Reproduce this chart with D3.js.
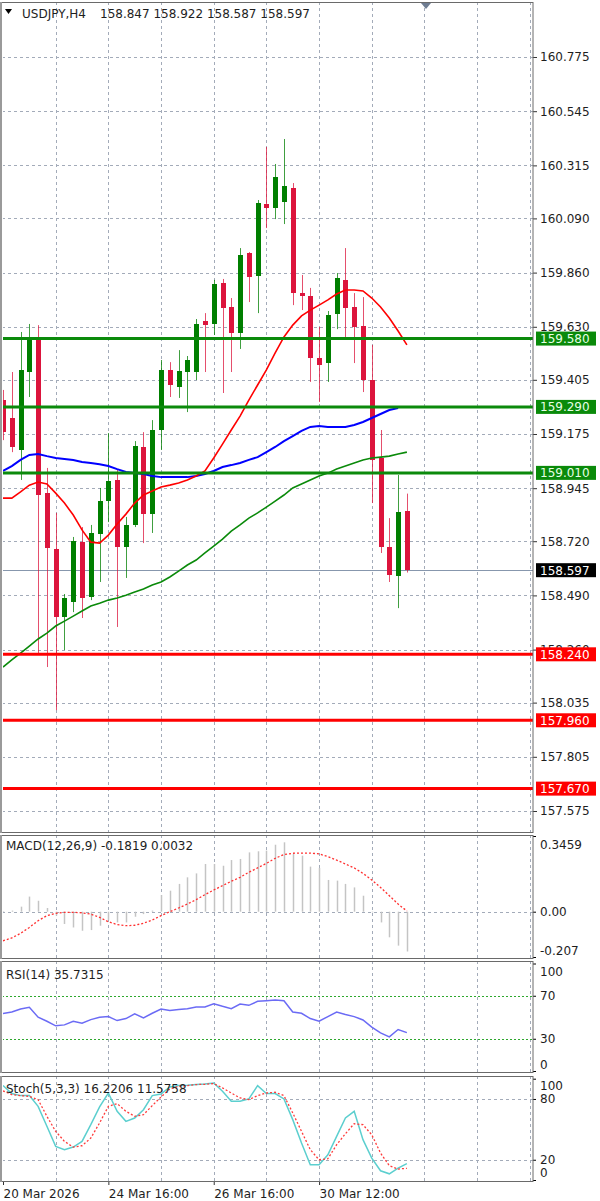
<!DOCTYPE html>
<html><head><meta charset="utf-8">
<script src="https://cdn.jsdelivr.net/npm/d3@7"></script>
<style>
body{margin:0;background:#fff}
svg{display:block}
text{font-family:"DejaVu Sans",sans-serif;font-size:12px;fill:#1e1e1e}
</style></head>
<body><svg id="c" width="600" height="1201"></svg>
<script>
// ---------- DATA ----------
const symbolTitle = "USDJPY,H4";
const headerOHLC = ["158.847","158.922","158.587","158.597"];
const openP  = [159.319,159.243,159.107,159.438,159.582,158.924,158.687,158.398,158.462,158.716,158.483,158.750,158.890,158.980,158.695,158.789,159.120,158.835,159.192,159.447,159.374,159.438,159.438,159.654,159.642,159.816,159.714,159.604,159.943,159.845,160.151,160.134,160.160,160.219,159.773,159.761,159.497,159.476,159.684,159.829,159.714,159.633,159.404,159.073,158.695,158.572,158.847];
const highP  = [159.362,159.438,159.608,159.642,159.637,159.031,158.840,158.496,158.738,158.780,158.789,158.946,159.179,159.022,158.823,159.145,159.183,159.234,159.489,159.480,159.531,159.506,159.663,159.688,159.829,159.833,159.752,159.964,159.947,160.168,160.393,160.321,160.427,160.240,159.850,159.795,159.629,159.697,159.858,159.964,159.773,159.756,159.553,159.192,158.818,159.001,158.922];
const lowP   = [159.149,159.098,158.980,159.332,158.245,158.186,158.003,158.258,158.419,158.394,158.470,158.547,158.801,158.356,158.564,158.780,158.712,158.755,159.107,159.332,159.328,159.268,159.404,159.438,159.595,159.349,159.438,159.536,159.735,159.688,160.049,160.087,160.066,159.722,159.701,159.396,159.311,159.396,159.620,159.574,159.476,159.353,158.882,158.670,158.547,158.436,158.587];
const closeP = [159.183,159.120,159.447,159.582,158.916,158.691,158.398,158.479,158.721,158.479,158.755,158.890,158.975,158.695,158.789,159.124,158.835,159.192,159.447,159.383,159.442,159.489,159.642,159.637,159.812,159.710,159.604,159.935,159.841,160.155,160.134,160.266,160.227,159.773,159.761,159.497,159.468,159.680,159.837,159.710,159.629,159.404,159.065,158.695,158.576,158.844,158.597];

const maFast = [158.903,158.903,158.929,158.958,158.971,158.963,158.924,158.882,158.831,158.768,158.716,158.712,158.746,158.793,158.835,158.882,158.916,158.933,158.950,158.958,158.967,158.980,158.997,159.018,159.073,159.132,159.192,159.251,159.319,159.383,159.447,159.519,159.587,159.637,159.676,159.701,159.722,159.744,159.769,159.786,159.786,159.782,159.752,159.714,159.667,159.612,159.553];
const maMid  = [159.018,159.039,159.065,159.086,159.090,159.081,159.073,159.069,159.065,159.056,159.052,159.047,159.039,159.026,159.014,159.009,159.005,158.997,158.992,158.992,158.992,158.992,158.997,159.005,159.018,159.035,159.043,159.052,159.065,159.077,159.098,159.120,159.145,159.166,159.188,159.205,159.209,159.205,159.205,159.205,159.213,159.226,159.243,159.260,159.277,159.285];
const maSlow = [158.186,158.216,158.245,158.275,158.305,158.330,158.360,158.381,158.402,158.424,158.445,158.457,158.470,158.479,158.491,158.504,158.517,158.534,158.547,158.568,158.593,158.619,158.640,158.670,158.699,158.729,158.763,158.789,158.818,158.840,158.865,158.890,158.916,158.946,158.963,158.980,158.997,159.009,159.026,159.039,159.052,159.065,159.073,159.077,159.081,159.090,159.098];

const priceTicks = [160.775,160.545,160.315,160.090,159.860,159.630,159.405,159.175,158.945,158.720,158.490,158.260,158.035,157.805,157.575];
const greenLevels = [159.580,159.290,159.010];
const redLevels   = [158.240,157.960,157.670];
const lastPrice = 158.597;

const macdHist   = [0.002,0.005,0.023,0.069,0.050,0.017,-0.018,-0.056,-0.072,-0.087,-0.084,-0.064,-0.038,-0.049,-0.049,-0.023,-0.011,0.005,0.076,0.096,0.127,0.157,0.175,0.218,0.218,0.210,0.236,0.241,0.271,0.276,0.279,0.306,0.317,0.264,0.256,0.206,0.200,0.145,0.142,0.127,0.111,0.073,-0.003,-0.049,-0.117,-0.155,-0.1819];
const macdSignal = [-0.133,-0.120,-0.099,-0.072,-0.041,-0.018,-0.008,-0.003,-0.003,-0.005,-0.011,-0.026,-0.046,-0.059,-0.064,-0.062,-0.053,-0.038,-0.018,0.000,0.017,0.035,0.055,0.078,0.099,0.119,0.139,0.157,0.180,0.200,0.221,0.244,0.261,0.267,0.268,0.268,0.264,0.252,0.236,0.218,0.200,0.175,0.145,0.111,0.073,0.035,0.0032];
const macdTicks = [0.3459,0,-0.207];
const macdTickLabels = ["0.3459","0.00","-0.207"];

const rsiVals = [53.4,54.9,57.7,59.2,50.0,46.3,42.0,42.9,46.3,44.5,47.8,50.0,50.6,46.9,48.8,53.1,49.4,53.7,57.7,56.2,57.1,58.0,59.5,59.5,62.6,60.2,58.0,62.3,61.1,64.8,65.4,66.0,65.4,54.9,53.7,48.8,46.3,50.6,54.9,52.5,50.6,47.5,40.8,35.5,31.8,38.6,35.7315];
const rsiTicks = [100,70,30,0];
const rsiLevels = [70,30];

const stochK = [93.2,85.3,83.3,83.3,72.7,53.0,33.2,29.9,32.5,38.1,54.6,72.1,85.9,67.8,57.9,61.2,69.4,83.3,84.9,91.9,93.2,93.5,94.2,94.8,95.8,87.6,77.7,77.7,80.0,93.2,85.3,85.3,80.0,59.6,36.5,15.0,15.0,24.9,43.1,61.2,67.8,39.8,21.6,9.1,6.1,11.8,16.2206];
const stochD = [87.9,84.3,83.3,82.6,79.3,62.9,48.0,38.1,32.5,33.8,41.4,56.3,72.7,75.4,67.8,62.9,64.5,73.4,82.0,89.9,92.5,93.2,94.2,94.5,95.2,90.9,85.9,81.0,79.3,83.3,85.9,86.6,83.3,66.2,48.0,29.9,20.0,21.0,34.8,45.7,55.6,54.6,44.7,26.6,14.1,10.8,11.5758];
const stochTicks = [100,80,20,0];
const stochLevels = [80,20];

const timeTickIdx = [0,12,24,36];
const timeLabels = ["20 Mar 2026","24 Mar 16:00","26 Mar 16:00","30 Mar 12:00"];
const gridEvery = 6;

// ---------- LAYOUT ----------
const svg = d3.select("#c");
const L = 2, R = 533;
const P = {main:[2,832], macd:[835,958], rsi:[961,1072], sto:[1076,1181]};
const x = d3.scaleLinear().domain([0,60]).range([3, 3+60*8.78]);
const yMain = d3.scaleLinear().domain([157.575,160.775]).range([811,57]);
const yMacd = d3.scaleLinear().domain([-0.207,0.3459]).range([957,836]);
const yRsi  = d3.scaleLinear().domain([0,100]).range([1071,963.5]);
const ySto  = d3.scaleLinear().domain([0,100]).range([1180,1078.7]);
const px = i => Math.round(x(i)) + 0.5;
const GRID = "#a3abb9";

const defs = svg.append("defs");
Object.entries(P).forEach(([k,[t,b]]) => {
  defs.append("clipPath").attr("id","clip-"+k).append("rect")
    .attr("x",L+1).attr("y",t+1).attr("width",R-L-1).attr("height",b-t-1);
});

function panelGrid(key){
  const [t,b] = P[key];
  const g = svg.append("g").attr("clip-path",`url(#clip-${key})`);
  const vx = d3.range(gridEvery, 61, gridEvery);
  g.selectAll("line.v").data(vx).join("line").attr("class","v")
    .attr("x1",d=>px(d)).attr("x2",d=>px(d)).attr("y1",t).attr("y2",b)
    .attr("stroke",GRID).attr("stroke-dasharray","3,3").attr("stroke-width",1);
  return g;
}

// ---------- MAIN PANEL ----------
const gMainGrid = panelGrid("main");
gMainGrid.selectAll("line.h").data(priceTicks).join("line").attr("class","h")
  .attr("x1",L).attr("x2",R).attr("y1",d=>Math.round(yMain(d))+0.5).attr("y2",d=>Math.round(yMain(d))+0.5)
  .attr("stroke",GRID).attr("stroke-dasharray","3,3");

const gMain = svg.append("g").attr("clip-path","url(#clip-main)");
const idx = d3.range(openP.length);
const BULL = "#007f00", BEAR = "#dc143c";
const col = i => closeP[i] >= openP[i] ? BULL : BEAR;

gMain.append("line").attr("x1",L).attr("x2",R)
  .attr("y1",Math.round(yMain(lastPrice))+0.5).attr("y2",Math.round(yMain(lastPrice))+0.5)
  .attr("stroke","#8797ad").attr("stroke-width",1);

gMain.selectAll("line.wick").data(idx).join("line").attr("class","wick")
  .attr("x1",px).attr("x2",px)
  .attr("y1",i=>yMain(highP[i])).attr("y2",i=>yMain(lowP[i]))
  .attr("stroke",col).attr("stroke-width",1).attr("stroke-opacity",0.75);
gMain.selectAll("rect.body").data(idx).join("rect").attr("class","body")
  .attr("x",i=>Math.round(x(i))-2).attr("width",5)
  .attr("y",i=>yMain(Math.max(openP[i],closeP[i])))
  .attr("height",i=>Math.max(1.5, Math.abs(yMain(openP[i])-yMain(closeP[i]))))
  .attr("fill",col).attr("shape-rendering","crispEdges");

const lineMain = d3.line().x((d,i)=>x(i)).y(d=>yMain(d));
gMain.append("path").datum(maSlow).attr("d",lineMain).attr("fill","none").attr("stroke","#0a8a0a").attr("stroke-width",1.6);
gMain.append("path").datum(maMid).attr("d",lineMain).attr("fill","none").attr("stroke","#0000ff").attr("stroke-width",2);
gMain.append("path").datum(maFast).attr("d",lineMain).attr("fill","none").attr("stroke","#ff0000").attr("stroke-width",1.6);

gMain.selectAll("line.gl").data(greenLevels).join("line").attr("class","gl")
  .attr("x1",L).attr("x2",R).attr("y1",d=>yMain(d)).attr("y2",d=>yMain(d))
  .attr("stroke","#0b8a0b").attr("stroke-width",3);
gMain.selectAll("line.rl").data(redLevels).join("line").attr("class","rl")
  .attr("x1",L).attr("x2",R).attr("y1",d=>yMain(d)).attr("y2",d=>yMain(d))
  .attr("stroke","#ff0000").attr("stroke-width",3);

// price axis
const axMain = svg.append("g").attr("transform",`translate(${R},0)`)
  .call(d3.axisRight(yMain).tickValues(priceTicks).tickFormat(d3.format(".3f")).tickSize(4).tickSizeOuter(0).tickPadding(3));
axMain.select(".domain").remove();
axMain.selectAll(".tick line").attr("stroke","#333");
axMain.selectAll("text").attr("font-family","DejaVu Sans").attr("font-size",12).attr("fill","#1e1e1e");

function levelBox(v, bg, fg){
  const yy = yMain(v);
  svg.append("rect").attr("x",536).attr("y",yy-7).attr("width",60).attr("height",14).attr("fill",bg);
  svg.append("text").attr("x",540).attr("y",yy).attr("dy","0.36em").text(d3.format(".3f")(v)).style("fill",fg);
}
greenLevels.forEach(v=>levelBox(v,"#0a8a0a","#e6ffe6"));
redLevels.forEach(v=>levelBox(v,"#ff0000","#ffffff"));
levelBox(lastPrice,"#000000","#ffffff");

// header
svg.append("path").attr("d","M5,9 L12,9 L8.5,14 Z").attr("fill","#000");
svg.append("text").attr("x",22).attr("y",18).text(symbolTitle);
svg.append("text").attr("x",100).attr("y",18).text(headerOHLC.join(" "));
svg.append("path").attr("d","M421,3 L431,3 L426,9 Z").attr("fill","#6f7d92");

// ---------- MACD ----------
panelGrid("macd");
const gM = svg.append("g").attr("clip-path","url(#clip-macd)");
gM.append("line").attr("x1",L).attr("x2",R).attr("y1",Math.round(yMacd(0))+0.5).attr("y2",Math.round(yMacd(0))+0.5)
  .attr("stroke",GRID).attr("stroke-dasharray","3,3");
svg.append("text").attr("x",6).attr("y",850).text("MACD(12,26,9) -0.1819 0.0032");
gM.selectAll("line.hist").data(macdHist).join("line").attr("class","hist")
  .attr("x1",(d,i)=>px(i)).attr("x2",(d,i)=>px(i))
  .attr("y1",yMacd(0)).attr("y2",d=>yMacd(d))
  .attr("stroke","#c4c4c4").attr("stroke-width",1.5);
gM.append("path").datum(macdSignal).attr("d",d3.line().x((d,i)=>x(i)).y(d=>yMacd(d)))
  .attr("fill","none").attr("stroke","#ff3030").attr("stroke-width",1.3).attr("stroke-dasharray","2,2");
const axM = svg.append("g").attr("transform",`translate(${R},0)`)
  .call(d3.axisRight(yMacd).tickValues(macdTicks).tickFormat((d,i)=>macdTickLabels[i]).tickSize(3).tickSizeOuter(0).tickPadding(4));
axM.select(".domain").remove();
axM.selectAll("text").attr("font-family","DejaVu Sans").attr("font-size",12).attr("fill","#1e1e1e")
  .attr("dy",(d,i)=> i===0 ? "1.07em" : (i===macdTicks.length-1 ? "-0.18em" : "0.32em"));

// ---------- RSI ----------
panelGrid("rsi");
const gR = svg.append("g").attr("clip-path","url(#clip-rsi)");
gR.selectAll("line.lv").data(rsiLevels).join("line").attr("class","lv")
  .attr("x1",L).attr("x2",R).attr("y1",d=>Math.round(yRsi(d))+0.5).attr("y2",d=>Math.round(yRsi(d))+0.5)
  .attr("stroke","#2ea82e").attr("stroke-width",1).attr("stroke-dasharray","2,2");
svg.append("text").attr("x",6).attr("y",979).text("RSI(14) 35.7315");
gR.append("path").datum(rsiVals).attr("d",d3.line().x((d,i)=>x(i)).y(d=>yRsi(d)))
  .attr("fill","none").attr("stroke","#6b6bf5").attr("stroke-width",1.5);
const axR = svg.append("g").attr("transform",`translate(${R},0)`)
  .call(d3.axisRight(yRsi).tickValues(rsiTicks).tickFormat(d3.format("d")).tickSize(3).tickSizeOuter(0).tickPadding(4));
axR.select(".domain").remove();
axR.selectAll("text").attr("font-family","DejaVu Sans").attr("font-size",12).attr("fill","#1e1e1e")
  .attr("dy",d=> d===100 ? "1.03em" : (d===0 ? "-0.18em" : "0.32em"));

// ---------- STOCH ----------
panelGrid("sto");
const gS = svg.append("g").attr("clip-path","url(#clip-sto)");
gS.selectAll("line.lv").data(stochLevels).join("line").attr("class","lv")
  .attr("x1",L).attr("x2",R).attr("y1",d=>Math.round(ySto(d))+0.5).attr("y2",d=>Math.round(ySto(d))+0.5)
  .attr("stroke",GRID).attr("stroke-dasharray","3,3");
svg.append("text").attr("x",6).attr("y",1093).text("Stoch(5,3,3) 16.2206 11.5758");
gS.append("path").datum(stochK).attr("d",d3.line().x((d,i)=>x(i)).y(d=>ySto(d)))
  .attr("fill","none").attr("stroke","#5ccfcf").attr("stroke-width",1.5);
gS.append("path").datum(stochD).attr("d",d3.line().x((d,i)=>x(i)).y(d=>ySto(d)))
  .attr("fill","none").attr("stroke","#ff3b3b").attr("stroke-width",1.3).attr("stroke-dasharray","2,2");
const axS = svg.append("g").attr("transform",`translate(${R},0)`)
  .call(d3.axisRight(ySto).tickValues(stochTicks).tickFormat(d3.format("d")).tickSize(3).tickSizeOuter(0).tickPadding(4));
axS.select(".domain").remove();
axS.selectAll("text").attr("font-family","DejaVu Sans").attr("font-size",12).attr("fill","#1e1e1e")
  .attr("dy",d=> d===100 ? "0.9em" : (d===0 ? "-0.26em" : "0.32em"));

// ---------- TIME AXIS ----------
const axX = svg.append("g").attr("transform",`translate(0,${P.sto[1]})`)
  .call(d3.axisBottom(x).tickValues(timeTickIdx).tickFormat((d,i)=>timeLabels[i]).tickSize(4).tickSizeOuter(0).tickPadding(4));
axX.select(".domain").remove();
axX.selectAll(".tick line").attr("stroke","#333");
axX.selectAll("text").attr("font-family","DejaVu Sans").attr("font-size",12).attr("fill","#1e1e1e")
  .attr("text-anchor","start").attr("dx","0");

// ---------- FRAMES ----------
Object.values(P).forEach(([t,b])=>{
  svg.append("rect").attr("x",L-0.5).attr("y",t+0.5).attr("width",R-L+0.5).attr("height",b-t)
    .attr("fill","none").attr("stroke","#6a6a6a").attr("stroke-width",1);
  svg.append("line").attr("x1",1).attr("x2",1).attr("y1",t).attr("y2",b+1).attr("stroke","#9a9a9a").attr("stroke-width",2);
});
</script>
</body></html>
